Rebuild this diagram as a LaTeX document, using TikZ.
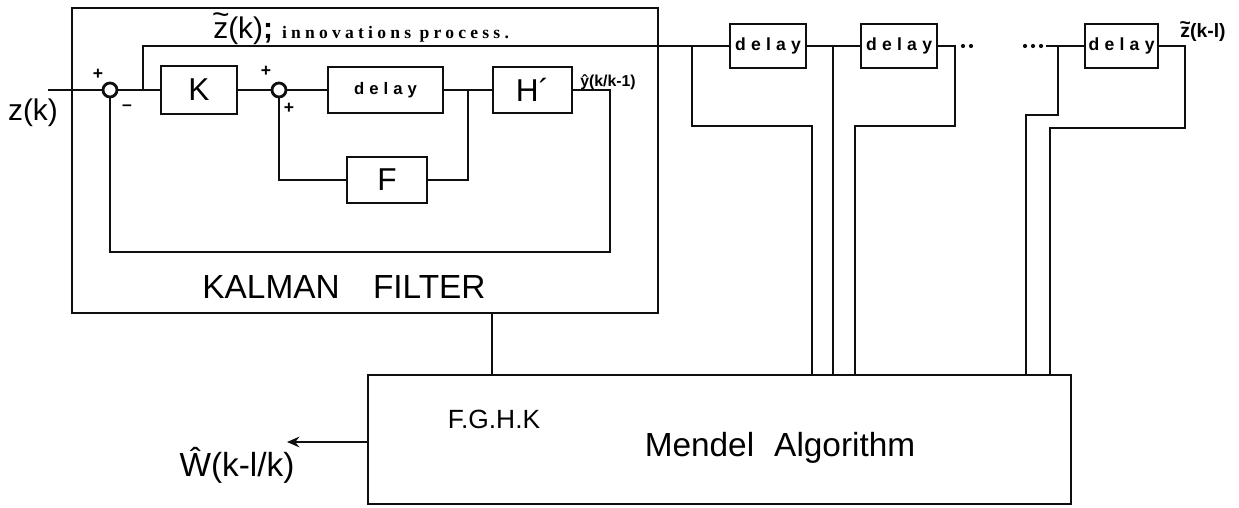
\documentclass[tikz,border=0pt]{standalone}
\usepackage{fontspec}
\setmainfont{Liberation Sans}
\newfontfamily\dlyfont{Liberation Sans}[LetterSpace=30]
\newfontfamily\innofont{Liberation Serif}[LetterSpace=24]
\usepackage{tikz}
\usetikzlibrary{arrows.meta,positioning}
\definecolor{ink}{RGB}{15,15,15}
\newcommand{\tld}[1]{\leavevmode\ooalign{#1\cr\hidewidth\raisebox{0.44em}{\textasciitilde}\hidewidth\cr}}

\begin{document}
\begin{tikzpicture}[x=0.02cm, y=-0.02cm,
  wire/.style={draw=ink, line width=1.6pt},
  blk/.style={draw=ink, line width=1.6pt, inner sep=0pt, font=\fontsize{18}{20}\selectfont},
  dlybox/.style={blk, minimum width=1.52cm, minimum height=0.88cm, font=\dlyfont\bfseries\fontsize{10}{12}\selectfont},
  sumpt/.style={circle, draw=ink, line width=1.6pt, minimum size=0.28cm, inner sep=0pt},
  sgn/.style={inner sep=0pt, font=\bfseries\fontsize{10}{10}\selectfont}]
\useasboundingbox (0,0) rectangle (1239,507);

\node[blk, minimum width=11.72cm, minimum height=6.1cm] (kalman) at (365,160.5) {};
\node[font=\fontsize{19}{22}\selectfont] (kflabel) at (344,287) {KALMAN\hspace{1em}FILTER};
\node[sumpt] (s1) at (110,90) {};
\node[sumpt] (s2) at (279,90) {};
\node[blk, minimum width=1.52cm, minimum height=0.96cm] (kgain) at (199,90) {K};
\node[blk, minimum width=2.3cm, minimum height=0.92cm, font=\dlyfont\bfseries\fontsize{9.5}{10}\selectfont] (dly) at (385.5,90) {delay};
\node[blk, minimum width=1.58cm, minimum height=0.92cm] (hgain) at (532.5,90) {H´};
\node[blk, minimum width=1.6cm, minimum height=0.92cm] (fgain) at (387,180) {F};
\node[sgn] (p1) at (98,74) {+};
\node[sgn] (n1) at (127,108) {–};
\node[sgn] (p2) at (266,71) {+};
\node[sgn] (p3) at (289,108) {+};

\node[font=\fontsize{17}{20}\selectfont] (zlab) at (33,113) {z(k)};
\node[anchor=base west, inner sep=0pt] (innov) at (213,38) {\fontsize{17}{20}\selectfont\tld{z}(k)\textbf{;}\hspace{0.3em}\innofont\bfseries\fontsize{10}{12}\selectfont innovations process.};
\node[anchor=base west, inner sep=0pt, font=\bfseries\fontsize{9}{10}\selectfont] (yhat) at (580,86) {ŷ(k/k-1)};

\coordinate (zin) at (48,90);
\coordinate (tapK) at (143,90);
\coordinate (tapF) at (468,90);
\coordinate (yout) at (610,90);
\coordinate (fbk) at (610,252);
\draw[wire] (zin) -- (s1.west);
\draw[wire] (s1.east) -- (kgain.west);
\draw[wire] (kgain.east) -- (s2.west);
\draw[wire] (s2.east) -- (dly.west);
\draw[wire] (dly.east) -- (hgain.west);
\draw[wire] (fgain.east) -| (tapF);
\draw[wire] (fgain.west) -| (s2.south);
\draw[wire] (hgain.east) -- (yout) -- (fbk) -| (s1.south);

\node[dlybox] (d1) at (768,46) {delay};
\node[dlybox] (d2) at (899,46) {delay};
\node[dlybox, minimum width=1.46cm] (d3) at (1121.5,46) {delay};
\node[blk, minimum width=14.06cm, minimum height=2.58cm] (mendel) at (719.5,439.5) {};
\node[font=\fontsize{15}{18}\selectfont] (fghk) at (494,419) {F.G.H.K};
\node[font=\fontsize{19}{22}\selectfont] (malg) at (780,448) {Mendel\hspace{0.6em}Algorithm};
\node[font=\fontsize{19}{22}\selectfont] (what) at (237,465) {Ŵ(k-l/k)};
\node[font=\bfseries\fontsize{11}{12}\selectfont] (zlag) at (1203,33) {\tld{z}(k-l)};

\coordinate (j1) at (692,46);
\coordinate (m1) at (812,126);
\coordinate (j2) at (833,46);
\coordinate (j3) at (955,46);
\coordinate (m3) at (855,126);
\coordinate (dotsb) at (1046,46);
\coordinate (j4) at (1058,46);
\coordinate (m4) at (1026,115);
\coordinate (zend) at (1185,46);
\coordinate (m5) at (1050,128);
\coordinate (kfout) at (492,313);
\coordinate (wout) at (287,442);

\draw[wire] (tapK) |- (d1.west);
\draw[wire] (j1) |- (m1) -- (m1 |- mendel.north);
\draw[wire] (d1.east) -- (d2.west);
\draw[wire] (j2) -- (j2 |- mendel.north);
\draw[wire] (d2.east) -- (j3) |- (m3) -- (m3 |- mendel.north);
\foreach \x in {963,971,1025,1033,1041}
{
    \fill[ink] (\x,46) circle (1.2pt);
}
\draw[wire] (dotsb) -- (d3.west);
\draw[wire] (j4) |- (m4) -- (m4 |- mendel.north);
\draw[wire] (d3.east) -- (zend) |- (m5) -- (m5 |- mendel.north);
\draw[wire] (kfout) -- (kfout |- mendel.north);
\draw[wire, -{Stealth[length=7pt,width=6pt]}] (mendel.west |- wout) -- (wout);
\end{tikzpicture}
\end{document}
